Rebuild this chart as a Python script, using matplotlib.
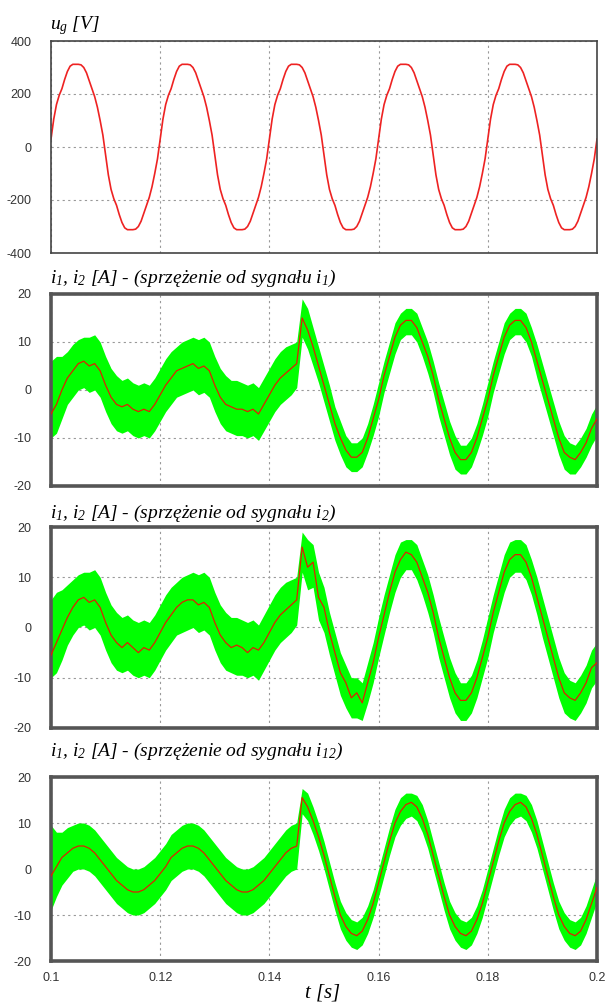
import numpy as np
import matplotlib
matplotlib.use('Agg')
import matplotlib.pyplot as plt

plt.rcParams['font.family'] = ['Liberation Sans', 'DejaVu Sans']
plt.rcParams['mathtext.fontset'] = 'custom'
plt.rcParams['mathtext.it'] = 'Liberation Serif:italic'
plt.rcParams['mathtext.rm'] = 'Liberation Serif:italic'
plt.rcParams['axes.unicode_minus'] = False

# time axis, 1 ms step
t = np.round(np.arange(0.100, 0.2005, 0.001), 4)

# grid voltage, one period (0.5 ms step), repeated for 5 periods
ug_period = [30, 105, 160, 195, 220, 255, 285, 305, 312, 312, 312, 310, 300, 280, 250, 220, 190, 150, 100, 45,
             -30, -105, -160, -195, -220, -255, -285, -305, -312, -312, -312, -310, -300, -280, -250, -220, -190, -150, -100, -45]
t_ug = np.round(np.arange(0.100, 0.2001, 0.0005), 5)
ug = np.array(ug_period * 5 + [ug_period[0]])

# panel 2: feedback from i1
i2_red = [-5, -3, 0, 2.5, 4, 5.5, 6, 5, 5.5, 4, 1, -1.5, -3, -3.5, -3, -4, -4.5, -4, -4.5, -3,
          -1, 1, 2.5, 4, 4.5, 5, 5.5, 4.5, 5, 4, 1, -1.5, -3, -3.5, -4, -4, -4.5, -4, -5, -3,
          -1, 1, 2.5, 3.5, 4.5, 5.5, 15, 12.5, 9, 5, 1, -3, -7, -10, -12.5, -14, -14, -13, -10, -6,
          -2, 3, 7, 11, 13.5, 14.5, 14.5, 13, 10, 7, 3, -2, -6, -10, -13, -14.5, -14.5, -13, -10, -6,
          -2, 3, 7, 11, 13.5, 14.5, 14.5, 13, 10, 6, 2, -2, -6, -10, -13, -14, -14.5, -13, -11, -8, -6]
i2_up = [6, 7, 7, 8, 9.5, 10.5, 11, 11, 11.5, 10, 7, 4.5, 3, 2, 2.5, 1.5, 1, 1.5, 1, 2.5,
         4.5, 6.5, 8, 9, 10, 10.5, 11, 10.5, 11, 10, 7, 4.5, 3, 2, 2, 1.5, 1, 1.5, 0.5, 2.5,
         4.5, 6.5, 8, 9, 9.5, 10, 19, 17, 13, 9, 5, 1, -3.5, -6.5, -9.5, -11, -11, -10, -7, -3,
         1.5, 6, 10, 14, 16, 17, 17, 16, 13, 10, 6, 1.5, -2.5, -6.5, -9.5, -11.5, -11.5, -10, -7, -3,
         1.5, 6, 10, 14, 16, 17, 17, 16, 13, 9.5, 5.5, 1.5, -2.5, -6.5, -9.5, -11, -11.5, -10, -8, -5, -3]
i2_lo = [-10, -9, -6, -3, -1.5, 0, 0.5, -0.5, 0, -1.5, -4.5, -7, -8.5, -9, -8.5, -9.5, -10, -9.5, -10, -8.5,
         -6.5, -4.5, -3, -1.5, -1, -0.5, 0, -1, -0.5, -1.5, -4.5, -7, -8.5, -9, -9.5, -9.5, -10, -9.5, -10.5, -8.5,
         -6.5, -4.5, -3, -2, -1, 0.5, 11, 8.5, 5, 1.5, -2.5, -6.5, -10.5, -13.5, -16, -17, -17, -16, -13, -9.5,
         -5.5, -0.5, 3.5, 7.5, 10.5, 11.5, 11.5, 10, 7, 3.5, -0.5, -5.5, -9.5, -13.5, -16.5, -17.5, -17.5, -16, -13, -9.5,
         -5.5, -0.5, 3.5, 7.5, 10.5, 11.5, 11.5, 10, 7, 2.5, -1.5, -5.5, -9.5, -13.5, -16.5, -17.5, -17.5, -16, -14, -11.5, -9.5]

# panel 3: feedback from i2
i3_red = [-5.5, -3, -0.5, 2, 4, 5.5, 6, 5, 5.5, 4, 1, -1.5, -3, -4, -3, -4, -5, -4, -4.5, -3,
          -1, 1, 2.5, 4, 5, 5.5, 5.5, 4.5, 5, 4, 1, -1.5, -3, -4, -3.5, -4, -5, -4, -4.5, -3,
          -1, 1, 2.5, 3.5, 4.5, 5.5, 16, 12, 13, 6, 4, -1, -5, -9, -11, -14, -13, -15, -11, -7,
          -2, 2.5, 7, 11, 13.5, 15, 14.5, 13, 10, 7, 3, -2, -6, -10, -13, -14.5, -14.5, -13, -10, -6,
          -2, 3, 7, 11, 13.5, 14.5, 14.5, 13, 10, 6, 2, -2, -6, -10, -13, -14, -14.5, -13, -11, -8, -7]
i3_up = [5.5, 7, 7.5, 8.5, 9.5, 10.5, 11, 11, 11.5, 10, 7, 4.5, 3, 2, 2.5, 1.5, 1, 1.5, 1, 2.5,
         4.5, 6.5, 8, 9, 10, 10.5, 11, 10.5, 11, 10, 7, 4.5, 3, 2, 2, 1.5, 1, 1.5, 0.5, 2.5,
         4.5, 6.5, 8, 9, 9.5, 10, 19, 17.5, 16.5, 11, 8, 3, -1, -5, -7.5, -10, -10, -11, -7, -3,
         2, 6.5, 10.5, 14.5, 17, 17.5, 17.5, 16.5, 13.5, 10.5, 6.5, 2, -2, -6, -9, -11, -11, -9.5, -6.5, -2.5,
         2, 6.5, 10.5, 14.5, 17, 17.5, 17.5, 16.5, 13.5, 10, 6, 2, -2, -6, -9, -10.5, -11, -9.5, -7.5, -4.5, -3]
i3_lo = [-10, -9, -6.5, -3.5, -1.5, 0, 0.5, -0.5, 0, -1.5, -4.5, -7, -8.5, -9, -8.5, -9.5, -10, -9.5, -10, -8.5,
         -6.5, -4.5, -3, -1.5, -1, -0.5, 0, -1, -0.5, -1.5, -4.5, -7, -8.5, -9, -9.5, -9.5, -10, -9.5, -10.5, -8.5,
         -6.5, -4.5, -3, -2, -1, 0.5, 11, 7.5, 8, 1.5, -1, -5.5, -9.5, -13.5, -16, -18, -18, -18.5, -15, -11,
         -6, -1.5, 3, 7, 10, 11.5, 11.5, 9.5, 6.5, 3, -1, -6, -10, -14, -17, -18.5, -18.5, -17, -14, -10,
         -6, -1, 3, 7, 10, 11, 11, 9.5, 6.5, 2.5, -2, -6, -10, -14, -17, -18, -18.5, -17, -15, -12, -10.5]

# panel 4: feedback from i12
i4_red = [-1.5, 0.5, 2.5, 3.5, 4.5, 5, 5, 4.5, 3.5, 2, 0.5, -1, -2.5, -3.5, -4.5, -5, -5, -4.5, -3.5, -2.5,
          -1, 0.5, 2.5, 3.5, 4.5, 5, 5, 4.5, 3.5, 2, 0.5, -1, -2.5, -3.5, -4.5, -5, -5, -4.5, -3.5, -2.5,
          -1, 0.5, 2, 3.5, 4.5, 5, 15.5, 13.5, 10.5, 7, 3, -1.5, -6, -10, -12.5, -14, -14.5, -13.5, -11, -7.5,
          -3, 1.5, 6, 10, 12.5, 14, 14.5, 13.5, 11, 7.5, 3, -1.5, -6, -10, -12.5, -14, -14.5, -13.5, -11, -7.5,
          -3, 1.5, 6, 10, 12.5, 14, 14.5, 13.5, 11, 7.5, 3, -1.5, -6, -10, -12.5, -14, -14.5, -13.5, -11, -7.5, -4]
i4_up = [9.5, 8, 8, 9, 9.5, 10, 10, 9.5, 8.5, 7, 5.5, 4, 2.5, 1.5, 0.5, 0, 0, 0.5, 1.5, 2.5,
         4, 5.5, 7.5, 8.5, 9.5, 10, 10, 9.5, 8.5, 7, 5.5, 4, 2.5, 1.5, 0.5, 0, 0, 0.5, 1.5, 2.5,
         4, 5.5, 7, 8.5, 9.5, 10, 17.5, 16.5, 13.5, 10, 6, 1.5, -3, -7, -9.5, -11, -11.5, -10.5, -8, -4.5,
         0, 4.5, 9, 13, 15.5, 16.5, 16.5, 16, 14, 10.5, 6, 1.5, -3, -7, -9.5, -11, -11.5, -10.5, -8, -4.5,
         0, 4.5, 9, 13, 15.5, 16.5, 16.5, 16, 14, 10.5, 6, 1.5, -3, -7, -9.5, -11, -11.5, -10.5, -8, -4.5, -1]
i4_lo = [-9, -6, -3.5, -2, -0.5, 0, 0, -0.5, -1.5, -3, -4.5, -6, -7.5, -8.5, -9.5, -10, -10, -9.5, -8.5, -7.5,
         -6, -4.5, -2.5, -1.5, -0.5, 0, 0, -0.5, -1.5, -3, -4.5, -6, -7.5, -8.5, -9.5, -10, -10, -9.5, -8.5, -7.5,
         -6, -4.5, -3, -1.5, -0.5, 0, 12, 10.5, 7.5, 4, 0, -4.5, -9, -13, -15.5, -17, -17.5, -16.5, -14, -10.5,
         -6, -1.5, 3, 7, 9.5, 11, 11.5, 10.5, 8, 4.5, 0, -4.5, -9, -13, -15.5, -17, -17.5, -16.5, -14, -10.5,
         -6, -1.5, 3, 7, 9.5, 11, 11.5, 10.5, 8, 4.5, 0, -4.5, -9, -13, -15.5, -17, -17.5, -16.5, -14, -10.5, -7]

titles = [r'$u_g$ [V]',
          r'$i_1$, $i_2$ [A] - (sprzężenie od sygnału $i_1$)',
          r'$i_1$, $i_2$ [A] - (sprzężenie od sygnału $i_2$)',
          r'$i_1$, $i_2$ [A] - (sprzężenie od sygnału $i_{12}$)']

W, H = 607, 1005
fig = plt.figure(figsize=(W / 100, H / 100), dpi=100)

# axes boxes in pixels: (top, bottom)
boxes = [(41, 253), (294, 486), (527, 728), (777, 961)]
title_bottom = [37, 289, 524, 762]
left, right = 51, 597

axes = []
for (top, bot) in boxes:
    ax = fig.add_axes([left / W, 1 - bot / H, (right - left) / W, (bot - top) / H])
    axes.append(ax)

green = '#00ff00'
red = '#dd2200'

ax = axes[0]
ax.plot(t_ug, ug, color='#ee2222', lw=1.2)
ax.set_ylim(-400, 400)
ax.set_yticks([-400, -200, 0, 200, 400])

panels = [(i2_red, i2_up, i2_lo), (i3_red, i3_up, i3_lo), (i4_red, i4_up, i4_lo)]
for ax, (r, up, lo) in zip(axes[1:], panels):
    ax.fill_between(t, lo, up, color=green, lw=0, zorder=2)
    ax.plot(t, r, color=red, lw=0.9, zorder=3)
    ax.set_ylim(-20, 20)
    ax.set_yticks([-20, -10, 0, 10, 20])

for i, ax in enumerate(axes):
    ax.set_xlim(0.1, 0.2)
    ax.set_xticks([0.1, 0.12, 0.14, 0.16, 0.18, 0.2])
    ax.grid(True, color='#999999', linestyle=(0, (2, 3)), lw=0.8, zorder=1)
    ax.set_axisbelow(True)
    ax.tick_params(length=0, labelsize=9, colors='#333333', pad=14)
    if i < 3:
        ax.set_xticklabels([])
    else:
        ax.set_xticklabels(['0.1', '0.12', '0.14', '0.16', '0.18', '0.2'])
        ax.tick_params(axis='x', pad=8)
    if i == 0:
        for s in ax.spines.values():
            s.set_color('#444444')
            s.set_linewidth(1.2)
    else:
        for s in ax.spines.values():
            s.set_color('#555555')
            s.set_linewidth(2.6)
    fig.text(50 / W, 1 - title_bottom[i] / H, titles[i], fontsize=14,
             family='Liberation Serif', style='italic', va='bottom', ha='left')

fig.text(322 / W, 1 - 1003 / H, r'$t$ [s]', fontsize=15, family='Liberation Serif',
         style='italic', ha='center', va='bottom')

fig.savefig('out.png', dpi=100)
